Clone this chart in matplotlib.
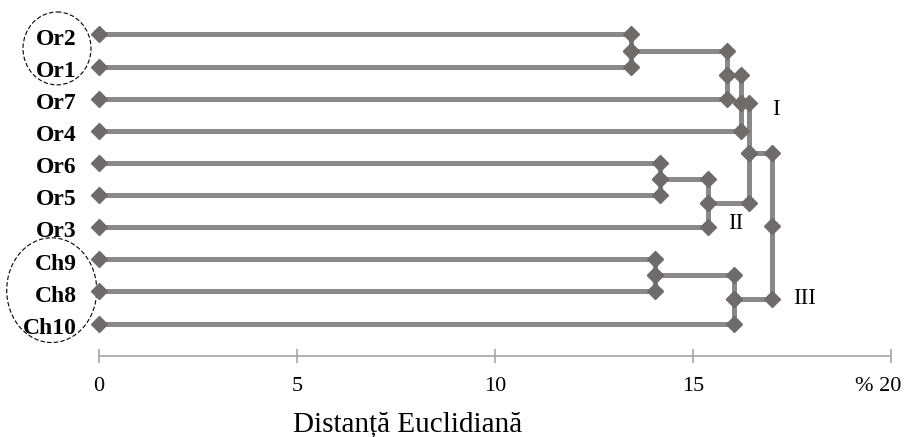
import matplotlib
matplotlib.use("Agg")
import matplotlib.pyplot as plt
from matplotlib.patches import Ellipse
from matplotlib.transforms import ScaledTranslation

# Leaves, top to bottom
leaf_labels = ["Or2", "Or1", "Or7", "Or4", "Or6", "Or5", "Or3", "Ch9", "Ch8", "Ch10"]

# Agglomeration steps: node ids 0-9 are leaves, each merge creates node 10, 11, ...
merge_left = [0, 10, 11, 4, 13, 12, 7, 16, 15]
merge_right = [1, 2, 3, 5, 6, 14, 8, 9, 17]
merge_height = [13.42, 15.86, 16.22, 14.16, 15.38, 16.42, 14.04, 16.03, 16.98]

tick_values = [0, 5, 10, 15, 20]
tick_labels = ["0", "5", "10", "15", "% 20"]

group_names = ["I", "II", "III"]

LINE = "#898989"
MARK = "#6f6b6b"
AXIS = "#a6a6a6"
SERIF = ["Liberation Serif", "DejaVu Serif"]

fig = plt.figure(figsize=(9.06, 4.37), dpi=100)
W, H = 906, 437
x0, x1 = 98.7, 891.3
yb, yt = 355.7, 2.33
ax = fig.add_axes([x0 / W, (H - yb) / H, (x1 - x0) / W, (yb - yt) / H])
ax.set_xlim(0, 20)
ax.set_ylim(10, -1)

# node coordinates
node_x = [0.0] * len(leaf_labels)
node_y = [float(i) for i in range(len(leaf_labels))]

for a, b, h in zip(merge_left, merge_right, merge_height):
    xa, ya = node_x[a], node_y[a]
    xb, yb_ = node_x[b], node_y[b]
    ym = (ya + yb_) / 2
    xs = [xa, h, h, h, xb]
    ys = [ya, ya, ym, yb_, yb_]
    ax.plot(xs, ys, color=LINE, lw=3.6, solid_capstyle="butt", zorder=2, clip_on=False)
    ax.plot(xs, ys, ls="none", marker="D", ms=8.6, color=MARK, mec=MARK, zorder=3,
            clip_on=False)
    node_x.append(h)
    node_y.append(ym)

# leaf labels
for i, lab in enumerate(leaf_labels):
    ax.text(-0.55, i + 0.32, lab, ha="right", va="baseline", fontsize=17,
            fontweight="bold", family=SERIF, clip_on=False)

# group labels
group_pos = [(17.09, 2.35), (16.08, 5.89), (17.8, 8.22)]
for name, (gx, gy) in zip(group_names, group_pos):
    ax.text(gx, gy, name, ha="center", va="center", fontsize=16.5, family=SERIF)

# dashed ellipses around the Or1/Or2 and Ch groups
for cx, cy, ew, eh in [(-1.052, 0.435, 1.716, 2.27), (-1.186, 7.96, 2.27, 3.26)]:
    ax.add_patch(Ellipse((cx, cy), ew, eh, fill=False, ec="black", lw=0.8,
                         ls=(0, (4, 2)), clip_on=False))

# axis styling
for s in ["top", "right", "left"]:
    ax.spines[s].set_visible(False)
ax.spines["bottom"].set_color(AXIS)
ax.spines["bottom"].set_linewidth(1.2)
ax.set_yticks([])
ax.set_xticks(tick_values)
ax.set_xticklabels(tick_labels, family=SERIF, fontsize=16)
ax.tick_params(axis="x", direction="inout", length=10, width=1.2, color=AXIS, pad=10)
lbls = ax.get_xticklabels()
lbls[-1].set_transform(lbls[-1].get_transform() + ScaledTranslation(-13 / 100, 0, fig.dpi_scale_trans))

fig.text(408 / W, (H - 431) / H, "Distanță Euclidiană", ha="center", va="baseline",
         fontsize=21, family=SERIF)

fig.savefig("out.png", dpi=100)
